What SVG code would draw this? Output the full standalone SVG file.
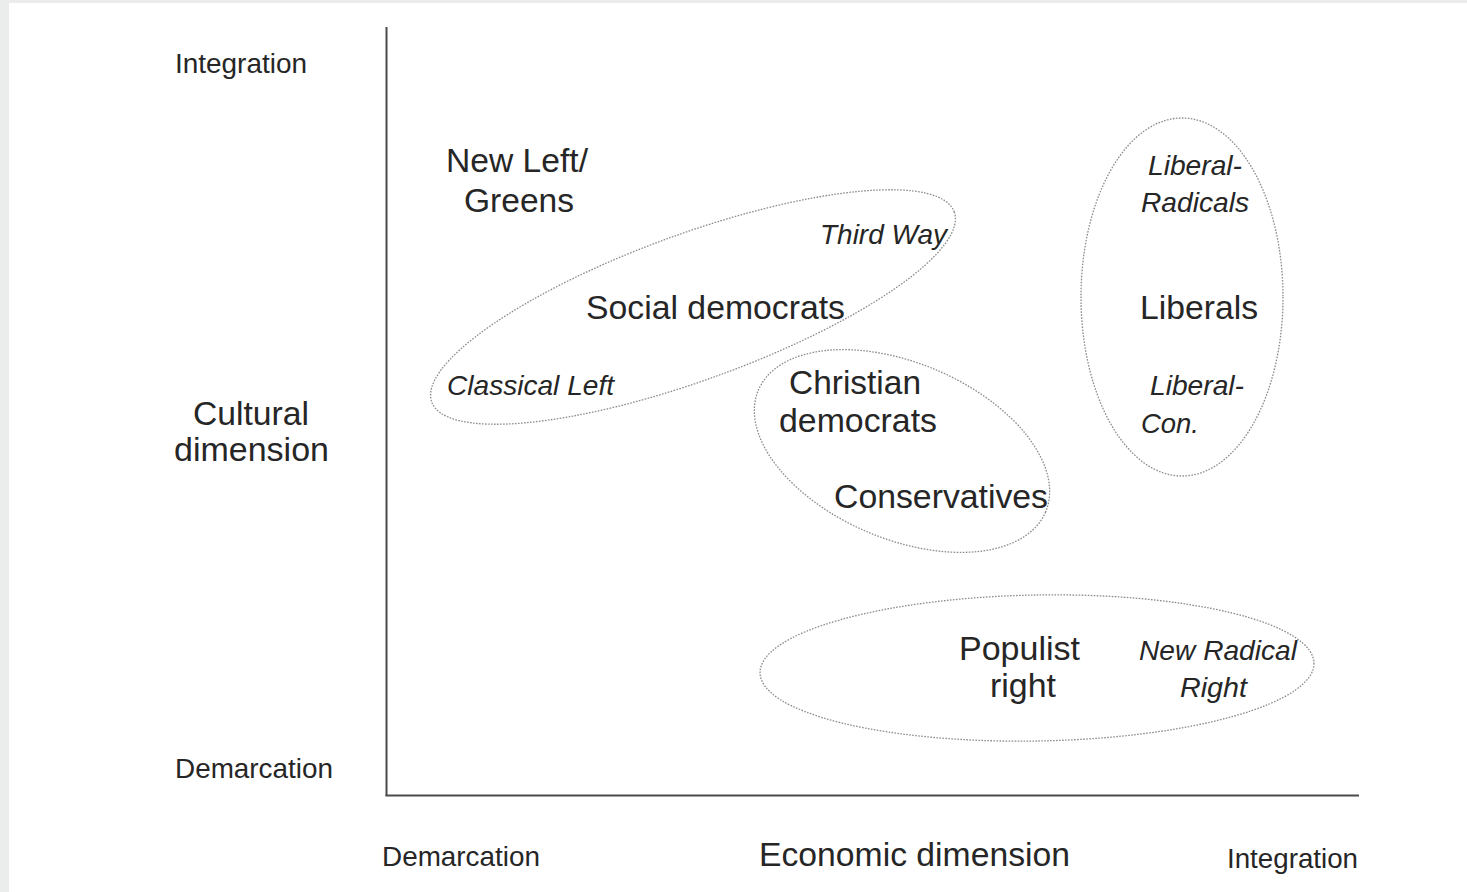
<svg xmlns="http://www.w3.org/2000/svg" width="1467" height="892" viewBox="0 0 1467 892">
<style>
text{font-family:"Liberation Sans",Arial,sans-serif;fill:#262626;}
.s{font-size:27.5px;}
.l{font-size:33px;}
.i{font-size:28px;font-style:italic;}
.ell{fill:none;stroke:#8c8c8c;stroke-width:1.3;stroke-dasharray:1.6 1.4;}
.axis{stroke:#4a4a4a;stroke-width:2;fill:none;}
</style>
<rect x="0" y="0" width="1467" height="892" fill="#ebecec"/>
<rect x="9" y="3" width="1458" height="889" fill="#ffffff"/>
<g id="axes">
<line class="axis" x1="386.5" y1="27" x2="386.5" y2="796"/>
<line class="axis" x1="385.5" y1="795.5" x2="1359" y2="795.5"/>
</g>
<g id="axis-labels">
<text class="s" x="175" y="73" textLength="132" lengthAdjust="spacingAndGlyphs">Integration</text>
<text class="s" x="175" y="778" textLength="158" lengthAdjust="spacingAndGlyphs">Demarcation</text>
<text class="l" x="193" y="425" textLength="116" lengthAdjust="spacingAndGlyphs">Cultural</text>
<text class="l" x="174" y="461" textLength="155" lengthAdjust="spacingAndGlyphs">dimension</text>
<text class="s" x="382" y="866" textLength="158" lengthAdjust="spacingAndGlyphs">Demarcation</text>
<text class="l" x="759" y="866" textLength="311" lengthAdjust="spacingAndGlyphs">Economic dimension</text>
<text class="s" x="1227" y="868" textLength="131" lengthAdjust="spacingAndGlyphs">Integration</text>
</g>
<g id="new-left-greens">
<text class="l" x="446" y="172" textLength="142" lengthAdjust="spacingAndGlyphs">New Left/</text>
<text class="l" x="464" y="212" textLength="110" lengthAdjust="spacingAndGlyphs">Greens</text>
</g>
<g id="social-democrats">
<ellipse class="ell" cx="693" cy="307" rx="278" ry="73" transform="rotate(-20 693 307)"/>
<text class="i" x="820" y="244" textLength="127" lengthAdjust="spacingAndGlyphs">Third Way</text>
<text class="l" x="586" y="319" textLength="259" lengthAdjust="spacingAndGlyphs">Social democrats</text>
<text class="i" x="447" y="395" textLength="167" lengthAdjust="spacingAndGlyphs">Classical Left</text>
</g>
<g id="christian-democrats">
<ellipse class="ell" cx="902" cy="451" rx="156" ry="88" transform="rotate(23 902 451)"/>
<text class="l" x="789" y="394" textLength="132" lengthAdjust="spacingAndGlyphs">Christian</text>
<text class="l" x="779" y="432" textLength="158" lengthAdjust="spacingAndGlyphs">democrats</text>
<text class="l" x="834" y="508" textLength="214" lengthAdjust="spacingAndGlyphs">Conservatives</text>
</g>
<g id="liberals">
<ellipse class="ell" cx="1182" cy="297" rx="101" ry="179"/>
<text class="i" x="1148" y="175" textLength="94" lengthAdjust="spacingAndGlyphs">Liberal-</text>
<text class="i" x="1141" y="212" textLength="108" lengthAdjust="spacingAndGlyphs">Radicals</text>
<text class="l" x="1140" y="319" textLength="118" lengthAdjust="spacingAndGlyphs">Liberals</text>
<text class="i" x="1150" y="395" textLength="94" lengthAdjust="spacingAndGlyphs">Liberal-</text>
<text class="i" x="1141" y="433" textLength="58" lengthAdjust="spacingAndGlyphs">Con.</text>
</g>
<g id="populist-right">
<ellipse class="ell" cx="1037" cy="668" rx="277" ry="73" transform="rotate(-1 1037 668)"/>
<text class="l" x="959" y="660" textLength="121" lengthAdjust="spacingAndGlyphs">Populist</text>
<text class="l" x="990" y="697" textLength="66" lengthAdjust="spacingAndGlyphs">right</text>
<text class="i" x="1139" y="660" textLength="158" lengthAdjust="spacingAndGlyphs">New Radical</text>
<text class="i" x="1180" y="697" textLength="67" lengthAdjust="spacingAndGlyphs">Right</text>
</g>
</svg>
